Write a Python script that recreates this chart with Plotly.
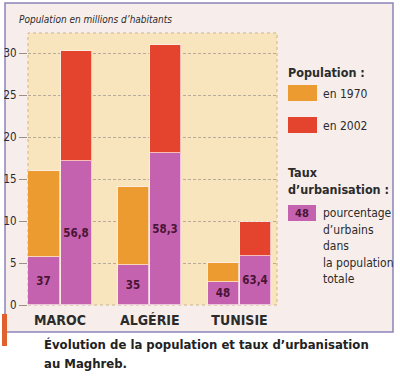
import plotly.graph_objects as go

# ---- data ----
countries = ["MAROC", "ALGÉRIE", "TUNISIE"]
years = ["1970", "2002"]
total_1970 = [16.0, 14.0, 5.0]          # millions
total_2002 = [30.2, 31.0, 9.85]
urban_1970 = [5.7, 4.8, 2.7]            # urban part (millions)
urban_2002 = [17.1, 18.1, 5.8]
pct_1970 = ["37", "35", "48"]
pct_2002 = ["56,8", "58,3", "63,4"]
yticks = [0, 5, 10, 15, 20, 25, 30]

W, H = 400, 380
L, R, T, B = 28, 277, 33, 305


def px(x):
    return (x - L) / (R - L)


def py(y):
    return (B - y) / (B - T)


GROUP_STEP = 2.8
x70 = [i * GROUP_STEP for i in range(len(countries))]
x02 = [i * GROUP_STEP + 1 for i in range(len(countries))]
centers = [i * GROUP_STEP + 0.5 for i in range(len(countries))]

ORANGE = "#eb9b30"
RED = "#e4432d"
PURPLE = "#c562b0"
TXT = "#2b2b2b"
LBL = "#4a1535"
FONT = "DejaVu Sans Condensed, Roboto, sans-serif"

rural_1970 = [t - u for t, u in zip(total_1970, urban_1970)]
rural_2002 = [t - u for t, u in zip(total_2002, urban_2002)]

fig = go.Figure()
bw = 0.97
line = dict(color="rgba(255,240,240,0.7)", width=1)
lblfont = dict(family=FONT, size=11.5, color=LBL, weight="bold")
fig.add_bar(x=x70, y=urban_1970, width=bw, marker=dict(color=PURPLE, line=line),
            text=pct_1970, textposition="inside", insidetextanchor="middle",
            textangle=0, constraintext="none", textfont=lblfont, name="urb 1970")
fig.add_bar(x=x70, y=rural_1970, width=bw, marker=dict(color=ORANGE, line=line), name="1970")
fig.add_bar(x=x02, y=urban_2002, width=bw, marker=dict(color=PURPLE, line=line),
            text=pct_2002, textposition="inside", insidetextanchor="middle",
            textangle=0, constraintext="none", textfont=lblfont, name="urb 2002")
fig.add_bar(x=x02, y=rural_2002, width=bw, marker=dict(color=RED, line=line), name="2002")

shapes = []
# panel background
shapes.append(dict(type="rect", xref="paper", yref="paper", layer="below",
                   x0=px(5), x1=px(393), y0=py(332), y1=py(3),
                   fillcolor="#f7eeeb", line=dict(color="#8d84bb", width=1.5)))
# plot area background
shapes.append(dict(type="rect", xref="paper", yref="paper", layer="below",
                   x0=0, x1=1, y0=0, y1=1, fillcolor="#f8e4bd",
                   line=dict(color="#c9b48c", width=1, dash="dot")))
# orange mark on left edge
shapes.append(dict(type="rect", xref="paper", yref="paper",
                   x0=px(2), x1=px(7), y0=py(346), y1=py(314),
                   fillcolor="#e0612e", line=dict(width=0)))
# legend swatches
shapes.append(dict(type="rect", xref="paper", yref="paper",
                   x0=px(288), x1=px(317), y0=py(101), y1=py(85),
                   fillcolor=ORANGE, line=dict(width=0)))
shapes.append(dict(type="rect", xref="paper", yref="paper",
                   x0=px(288), x1=px(317), y0=py(133), y1=py(117),
                   fillcolor=RED, line=dict(width=0)))
shapes.append(dict(type="rect", xref="paper", yref="paper",
                   x0=px(288), x1=px(316), y0=py(221), y1=py(205),
                   fillcolor=PURPLE, line=dict(width=0)))

ann = []


def text(x, y, s, size=13, bold=False, italic=False, xanchor="left", color=TXT):
    ann.append(dict(xref="paper", yref="paper", x=px(x), y=py(y), text=s,
                    showarrow=False, xanchor=xanchor, yanchor="middle",
                    font=dict(family=FONT, size=size, color=color,
                              weight="bold" if bold else "normal",
                              style="italic" if italic else "normal")))


text(17, 20, "Population en millions d’habitants", size=10, italic=True)
text(286, 72, "Population :", size=12.5, bold=True)
text(321, 94, "en 1970", size=12)
text(321, 126, "en 2002", size=12)
text(286, 172, "Taux", size=12.5, bold=True)
text(286, 189, "d’urbanisation :", size=12.5, bold=True)
text(302, 213, "48", size=11, bold=True, xanchor="center", color=LBL)
for i, s in enumerate(["pourcentage", "d’urbains", "dans", "la population", "totale"]):
    text(321, 213 + i * 16.5, s, size=12)
text(42, 344, "Évolution de la population et taux d’urbanisation", size=13, bold=True, color="#222")
text(42, 363, "au Maghreb.", size=13, bold=True, color="#222")

fig.update_layout(
    width=W, height=H, autosize=False,
    margin=dict(l=L, r=W - R, t=T, b=H - B, pad=0),
    paper_bgcolor="white", plot_bgcolor="rgba(0,0,0,0)",
    barmode="stack", showlegend=False, bargap=0,
    shapes=shapes, annotations=ann,
    font=dict(family=FONT, color=TXT),
)
fig.update_xaxes(range=[-0.5, -0.5 + (R - L) / 32.05], tickvals=centers, ticktext=countries,
                 showgrid=False, zeroline=False, showline=False, ticks="", automargin=False,
                 ticklabelstandoff=5,
                 tickfont=dict(family=FONT, size=14, color=TXT, weight="bold"))
fig.update_yaxes(range=[0, (B - T) / 8.4], tickvals=yticks, showgrid=True,
                 gridcolor="#b9ab9c", griddash="3px,2px", gridwidth=1, automargin=False,
                 zeroline=False, showline=False, ticks="outside", ticklen=8,
                 tickcolor="#9a9088", tickfont=dict(family=FONT, size=11.5, color=TXT))

fig.write_html("out.html", config={"displayModeBar": False},
               post_script="document.body.style.margin='0';document.body.style.overflow='hidden';")
